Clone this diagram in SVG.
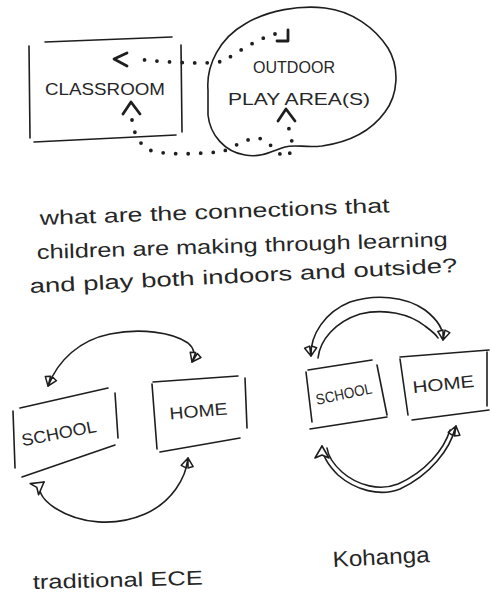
<svg xmlns="http://www.w3.org/2000/svg" width="490" height="598" viewBox="0 0 490 598">
  <style>
    .ink { fill: none; stroke: #1e1e1e; stroke-width: 1.6; stroke-linecap: round; stroke-linejoin: round; }
    .bold { fill: none; stroke: #1e1e1e; stroke-width: 2.8; stroke-linecap: round; stroke-linejoin: round; }
    .dots { fill: none; stroke: #1e1e1e; stroke-width: 3.8; stroke-linecap: round; stroke-dasharray: 0 12.5; }
    .lbl { font-family: "Liberation Sans", "DejaVu Sans", sans-serif; fill: #262626; }
    .caps { font-size: 17px; }
    .hand { font-size: 20px; }
  </style>
  <defs>
    <!-- small bow-tie arrowhead used on the sketched arcs -->
    <marker id="bow" viewBox="-12 -8 14 16" markerWidth="14" markerHeight="16" refX="0" refY="0" orient="auto" markerUnits="userSpaceOnUse">
      <path d="M0,0 L-8,-6 L-10,-1 Z M0,0 L-8,6 L-10,1 Z" fill="#fff" stroke="#1e1e1e" stroke-width="1.5" stroke-linejoin="round"/>
    </marker>
    <marker id="bowStart" viewBox="-12 -8 14 16" markerWidth="14" markerHeight="16" refX="0" refY="0" orient="auto-start-reverse" markerUnits="userSpaceOnUse">
      <path d="M0,0 L-8,-6 L-10,-1 Z M0,0 L-8,6 L-10,1 Z" fill="#fff" stroke="#1e1e1e" stroke-width="1.5" stroke-linejoin="round"/>
    </marker>
    <marker id="tri" viewBox="-14 -9 16 18" markerWidth="16" markerHeight="18" refX="0" refY="0" orient="auto" markerUnits="userSpaceOnUse">
      <path d="M0,0 L-12,-7 L-9,0 L-12,7 Z" fill="#fff" stroke="#1e1e1e" stroke-width="1.6" stroke-linejoin="round"/>
    </marker>
  </defs>

  <!-- top: classroom and outdoor play area -->
  <g id="classroom">
    <path class="ink" d="M45,42 L172,37 M29,46 L30,138 M181,45 L182,132 M34,142 L176,135"/>
    <text class="lbl caps" x="45" y="95" textLength="120" lengthAdjust="spacingAndGlyphs">CLASSROOM</text>
  </g>

  <g id="outdoor">
    <path class="ink" d="M208,90 C206,65 220,38 245,24 C268,10 300,5 325,8 C352,11 375,28 388,48 C400,68 398,95 385,112 C372,130 350,142 322,146 C305,148 295,144 285,147 C272,151 262,158 245,155 C225,152 210,135 208,115 Z"/>
    <text class="lbl caps" x="294" y="73" text-anchor="middle" textLength="82" lengthAdjust="spacingAndGlyphs">OUTDOOR</text>
    <text class="lbl caps" x="299" y="105" text-anchor="middle" textLength="142" lengthAdjust="spacingAndGlyphs">PLAY AREA(S)</text>
  </g>

  <g id="top-connectors">
    <!-- dotted route along the top, from the play area back to the classroom -->
    <path class="dots" d="M275,34 C260,38 240,50 224,61 C210,64 190,63 170,62 C155,61 145,60 136,59"/>
    <path class="bold" d="M127,53 L114,59 L127,66"/>
    <path class="bold" d="M277,41 L288,41 L288,30"/>
    <!-- dotted route along the bottom -->
    <path class="dots" d="M132,120 C134,135 140,146 152,151 C175,156 200,153 222,152 C235,146 248,138 258,138 C268,140 276,152 284,157 C292,156 293,145 291,136 C290,130 288,127 288,126"/>
    <path class="bold" d="M123,114 L131,102 L140,114"/>
    <path class="bold" d="M278,121 L286,109 L295,121"/>
  </g>

  <!-- question -->
  <g id="question">
    <text class="lbl hand" x="40" y="225" transform="rotate(-2.1 40 225)" textLength="350" lengthAdjust="spacingAndGlyphs">what are the connections that</text>
    <text class="lbl hand" x="37" y="259" transform="rotate(-1.8 37 259)" textLength="411" lengthAdjust="spacingAndGlyphs">children are making through learning</text>
    <text class="lbl hand" x="30" y="293" transform="rotate(-2.8 30 293)" textLength="428" lengthAdjust="spacingAndGlyphs">and play both indoors and outside?</text>
  </g>

  <!-- bottom left: traditional ECE -->
  <g id="ece-school">
    <path class="ink" d="M20,408 L108,388 M13,411 L15,468 M115,393 L118,438 M22,477 L115,445"/>
    <text class="lbl caps" x="60" y="439" text-anchor="middle" transform="rotate(-11 60 439)" textLength="76" lengthAdjust="spacingAndGlyphs">SCHOOL</text>
  </g>
  <g id="ece-home">
    <path class="ink" d="M153,382 L238,376 M152,384 L157,449 M245,378 L247,428 M160,452 L240,438"/>
    <text class="lbl caps" x="199" y="417" text-anchor="middle" transform="rotate(-5 199 417)" textLength="58" lengthAdjust="spacingAndGlyphs">HOME</text>
  </g>
  <g id="ece-connectors">
    <path class="ink" d="M48,386 C58,360 80,340 110,334 C140,328 172,332 188,343 C195,349 195,356 192,362" marker-start="url(#bowStart)" marker-end="url(#bow)"/>
    <path class="ink" d="M188,458 C186,478 172,502 145,514 C115,527 80,524 55,508 C40,498 36,488 44,482" marker-start="url(#bowStart)" marker-end="url(#tri)"/>
  </g>
  <text class="lbl hand" x="33" y="589" transform="rotate(-1.5 33 589)" textLength="170" lengthAdjust="spacingAndGlyphs">traditional ECE</text>

  <!-- bottom right: Kohanga -->
  <g id="kohanga-school">
    <path class="ink" d="M308,370 L372,360 M306,372 L312,422 M377,365 L387,415 M310,429 L387,417"/>
    <text class="lbl" x="345" y="399" font-size="15" text-anchor="middle" transform="rotate(-12 345 399)" textLength="57" lengthAdjust="spacingAndGlyphs">SCHOOL</text>
  </g>
  <g id="kohanga-home">
    <path class="ink" d="M400,357 L489,350 M400,359 L408,415 M412,420 L489,410 M487,352 L487,406"/>
    <text class="lbl caps" x="444" y="390" text-anchor="middle" transform="rotate(-6 444 390)" textLength="62" lengthAdjust="spacingAndGlyphs">HOME</text>
  </g>
  <g id="kohanga-connectors">
    <path class="ink" d="M311,356 C310,335 325,312 350,302 C375,294 405,296 425,310 C438,320 444,330 443,340" marker-start="url(#bowStart)" marker-end="url(#bow)"/>
    <path class="ink" d="M318,358 C320,340 335,322 360,314 C385,308 410,314 425,326 C433,332 437,336 438,338"/>
    <path class="ink" d="M456,426 C450,450 430,475 400,489 C380,497 355,490 338,475 C326,463 322,453 322,446" marker-start="url(#bowStart)" marker-end="url(#tri)"/>
    <path class="ink" d="M450,430 C444,450 425,472 398,484 C380,491 358,486 342,472 C332,463 328,455 327,448"/>
  </g>
  <text class="lbl" x="333" y="567" font-size="22" transform="rotate(-3 333 567)" textLength="97" lengthAdjust="spacingAndGlyphs">Kohanga</text>
</svg>
